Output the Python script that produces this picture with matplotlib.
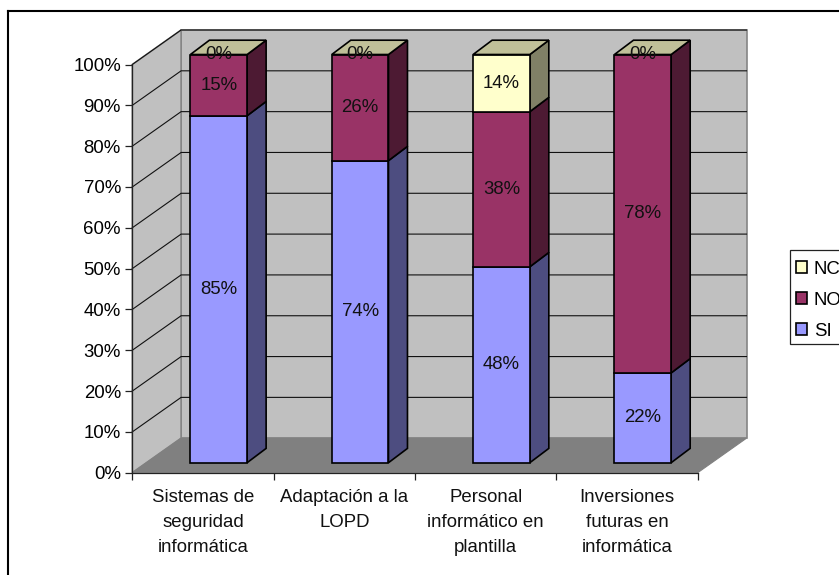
import matplotlib
matplotlib.use("Agg")
import matplotlib.pyplot as plt
from matplotlib.lines import Line2D
from matplotlib.patches import Patch, Polygon, Rectangle

plt.rcParams["font.family"] = ["Liberation Sans", "DejaVu Sans"]

# Survey answers per topic, in percent
categories = ["Sistemas de\nseguridad\ninformática",
              "Adaptación a la\nLOPD",
              "Personal\ninformático en\nplantilla",
              "Inversiones\nfuturas en\ninformática"]
si_values = [85, 74, 48, 22]
no_values = [15, 26, 38, 78]
nc_values = [0, 0, 14, 0]
y_ticks = list(range(0, 101, 10))

W, H = 839, 575
FONT = 18.6 * 72 / 100  # 18.6 px at 100 dpi

# Plot box of the front plane, in pixels
X0, X1, Y0, Y100 = 132.3, 697.7, 472.7, 64.5
PX_CAT = (X1 - X0) / len(categories)
PX_PCT = (Y0 - Y100) / 100


def depth(px_x, px_y):
    """Convert a pixel depth offset to data units."""
    return px_x / PX_CAT, px_y / PX_PCT


fig = plt.figure(figsize=(W / 100, H / 100), dpi=100, facecolor="white")
ax = fig.add_axes([X0 / W, 1 - Y0 / H, (X1 - X0) / W, (Y0 - Y100) / H])
ax.set_xlim(0, len(categories))
ax.set_ylim(0, 100)
ax.patch.set_visible(False)

# Outer chart frame
frame_kw = dict(color="black", lw=1.5, transform=fig.transFigure)
fig.add_artist(Line2D([8 / W, 8 / W], [0, 1 - 11 / H], **frame_kw))
fig.add_artist(Line2D([8 / W, 1], [1 - 11 / H, 1 - 11 / H], **frame_kw))

# Walls and floor of the box
WALL, FLOOR, BORDER = "#C0C0C0", "#808080", "#858585"
dx, dy = depth(48.8, 34.5)
n = len(categories)
ax.add_patch(Polygon([(dx, dy), (n + dx, dy), (n + dx, 100 + dy), (dx, 100 + dy)],
                     fc=WALL, ec=BORDER, lw=1.2, clip_on=False, zorder=1))
ax.add_patch(Polygon([(0, 0), (dx, dy), (dx, 100 + dy), (0, 100)],
                     fc=WALL, ec=BORDER, lw=1.2, clip_on=False, zorder=1))
for v in y_ticks[1:]:
    ax.plot([0, dx, n + dx], [v, v + dy, v + dy], color="#111111", lw=0.8,
            clip_on=False, zorder=1.5, solid_joinstyle="miter")
ax.add_patch(Polygon([(0, 0), (n, 0), (n + dx, dy), (dx, dy)],
                     fc=FLOOR, ec=FLOOR, lw=0.8, clip_on=False, zorder=2))

# Stacked 3D columns
series = [("SI", si_values, "#9999FF", "#4D4D80", "#7A7ACC"),
          ("NO", no_values, "#993366", "#4D1A33", "#7A2952"),
          ("NC", nc_values, "#FFFFCC", "#808066", "#C0C099")]
BAR_W = 56.7 / PX_CAT
fx, fy = depth(15.8, 10.0)      # front face of the column
sx, sy = depth(19.0, 14.3)      # column depth
EDGE = dict(ec="black", lw=1.2, joinstyle="miter", clip_on=False)

for i in range(n):
    left = i + 0.5 + fx - BAR_W / 2
    right = left + BAR_W
    base = 0.0
    z = 3 + i
    for name, values, front, side, top in series:
        v = values[i]
        y1, y2 = base + fy, base + v + fy
        if v > 0:
            ax.add_patch(Polygon([(right, y1), (right + sx, y1 + sy),
                                  (right + sx, y2 + sy), (right, y2)],
                                 fc=side, zorder=z, **EDGE))
            ax.add_patch(Polygon([(left, y1), (right, y1), (right, y2), (left, y2)],
                                 fc=front, zorder=z + 0.1, **EDGE))
        base += v
    # The uppermost series caps the column, even when its share is zero
    ytop = base + fy
    ax.add_patch(Polygon([(left, ytop), (right, ytop), (right + sx, ytop + sy),
                          (left + sx, ytop + sy)],
                         fc=series[-1][4], zorder=z + 0.2, **EDGE))
    # Value labels centred on each segment
    base = 0.0
    xc = (left + right) / 2
    for name, values, *_ in series:
        v = values[i]
        ax.text(xc, base + v / 2 + fy, f"{v}%", ha="center", va="center",
                fontsize=FONT, color="#111111", zorder=20, clip_on=False)
        base += v

# Axes, ticks and labels
for s in ("top", "right"):
    ax.spines[s].set_visible(False)
for s in ("left", "bottom"):
    ax.spines[s].set_color("#222222")
    ax.spines[s].set_linewidth(0.9)
    ax.spines[s].set_zorder(2.5)
ax.set_yticks(y_ticks, [f"{v}%" for v in y_ticks], fontsize=FONT)
ax.set_xticks(range(n + 1), [""] * (n + 1))
ax.tick_params(axis="both", direction="out", length=5.2, width=0.9, color="#222222")
ax.tick_params(axis="y", pad=3)

for i, label in enumerate(categories):
    ax.annotate(label, xy=(i + 0.5, 0), xycoords="data",
                xytext=(0, -(489.5 - Y0) * 0.72), textcoords="offset points",
                ha="center", va="top", fontsize=FONT, linespacing=1.58,
                color="#111111", annotation_clip=False)

# Legend box runs past the right edge of the canvas
fig.add_artist(Rectangle((789.7 / W, 1 - 343.5 / H), 60 / W, 93.5 / H,
                         transform=fig.transFigure, fc="white", ec="#222222", lw=0.9))
handles = [Patch(fc=c, ec="black", lw=1.2) for _, _, c, _, _ in reversed(series)]
labels = [s[0] for s in reversed(series)]
leg = fig.legend(handles, labels, loc="upper left",
                 bbox_to_anchor=(789.7 / W, 1 - 254 / H), borderaxespad=0,
                 fontsize=FONT, frameon=False,
                 handlelength=0.58, handleheight=0.58,
                 handletextpad=0.35, labelspacing=0.75, borderpad=0.36)

fig.savefig("out.png", dpi=100)
